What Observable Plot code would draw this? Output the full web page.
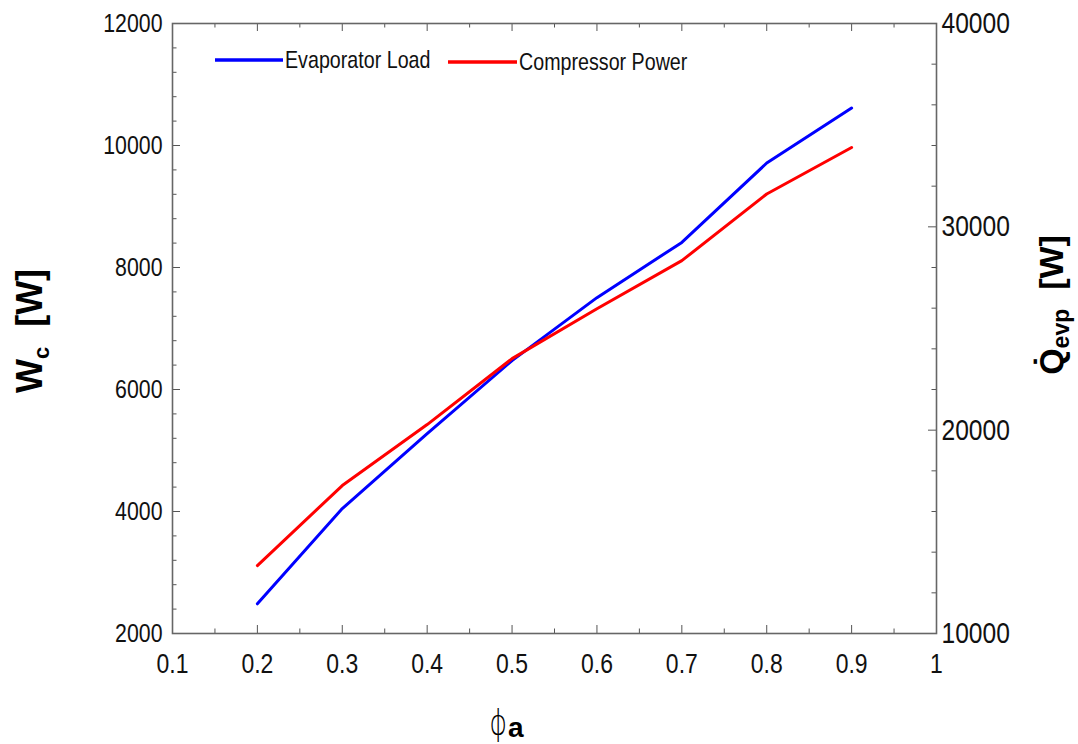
<!DOCTYPE html>
<html><head><meta charset="utf-8">
<script src="https://cdn.jsdelivr.net/npm/d3@7"></script>
<script src="https://cdn.jsdelivr.net/npm/@observablehq/plot@0.6"></script>
<style>
html,body{margin:0;padding:0;background:#fff;}
#chart{position:relative;width:1078px;height:744px;}
</style></head><body><div id="chart"></div>
<script>
// ---- data ----
const phi = [0.2, 0.3, 0.4, 0.5, 0.6, 0.7, 0.8, 0.9];
const evaporatorLoad = [11460, 16145, 19831, 23420, 26517, 29235, 33138, 35842]; // W (right axis)
const compressorPower = [3114, 4425, 5425, 6506, 7325, 8112, 9205, 9968];         // W (left axis)
const xTicks = [0.1, 0.2, 0.3, 0.4, 0.5, 0.6, 0.7, 0.8, 0.9, 1.0];
const wTicks = [2000, 4000, 6000, 8000, 10000, 12000];
const qTicks = [10000, 20000, 30000, 40000];
const seriesNames = ["Evaporator Load", "Compressor Power"];
const seriesColors = ["#0000ff", "#ff0000"];

// ---- layout ----
const W = 1078, H = 744, mL = 172, mR = 142, mT = 23, mB = 111;
const plotW = W - mL - mR, plotH = H - mT - mB;
const sans = "'Liberation Sans', Arial, sans-serif";
const squeeze = 0.82;
const qToW = q => 2000 + (q - 10000) * (10000 / 30000);
const wToQ = w => 10000 + (w - 2000) * 3;

const evapRows = phi.map((p, i) => ({phi: p, v: qToW(evaporatorLoad[i])}));
const compRows = phi.map((p, i) => ({phi: p, v: compressorPower[i]}));

const xMinor = d3.range(0.15, 1, 0.1);
const wMinor = d3.range(2000, 12000, 400).filter(v => v % 2000 !== 0);
const qMinor = d3.range(10000, 40000, 2000).filter(v => v % 10000 !== 0);
const tickColor = "#555";
const maj = 8, mnr = 4.5;

const chart = Plot.plot({
  width: W, height: H,
  marginLeft: mL, marginRight: mR, marginTop: mT, marginBottom: mB,
  x: {domain: [0.1, 1], axis: null},
  y: {domain: [2000, 12000], axis: null},
  style: {background: "white", color: "#111", fontFamily: sans},
  marks: [
    Plot.tickX(xTicks, {x: d => d, insetTop: plotH - maj, stroke: tickColor}),
    Plot.tickX(xMinor, {x: d => d, insetTop: plotH - mnr, stroke: tickColor}),
    Plot.tickX(xTicks, {x: d => d, insetBottom: plotH - maj, stroke: tickColor}),
    Plot.tickX(xMinor, {x: d => d, insetBottom: plotH - mnr, stroke: tickColor}),
    Plot.tickY(wTicks, {y: d => d, insetRight: plotW - maj, stroke: tickColor}),
    Plot.tickY(wMinor, {y: d => d, insetRight: plotW - mnr, stroke: tickColor}),
    Plot.tickY(qTicks.map(qToW), {y: d => d, insetLeft: plotW - maj, stroke: tickColor}),
    Plot.tickY(qMinor.map(qToW), {y: d => d, insetLeft: plotW - mnr, stroke: tickColor}),
    Plot.frame({stroke: "#666", strokeWidth: 1.6}),
    Plot.axisX(xTicks, {anchor: "bottom", tickSize: 0, tickPadding: 20, fontSize: 28,
      tickFormat: d => String(+d.toFixed(1)), label: null}),
    Plot.axisY(wTicks, {anchor: "left", tickSize: 0, tickPadding: 10, fontSize: 26,
      tickFormat: d => String(d), label: null}),
    Plot.axisY(qTicks.map(qToW), {anchor: "right", tickSize: 0, tickPadding: 5, fontSize: 30,
      tickFormat: d => String(Math.round(wToQ(d))), label: null}),
    Plot.line(evapRows, {x: "phi", y: "v", stroke: seriesColors[0], strokeWidth: 3}),
    Plot.line(compRows, {x: "phi", y: "v", stroke: seriesColors[1], strokeWidth: 3})
  ]
});
document.getElementById("chart").appendChild(chart);

const svg = d3.select(chart);

// condense the tick labels horizontally (reference uses a narrow face)
svg.selectAll('g[aria-label$="tick label"] text').each(function () {
  const t = this.getAttribute("transform");
  if (t && t.includes("translate")) {
    this.setAttribute("transform", t + ` scale(${squeeze},1)`);
  } else {
    const x = +(this.getAttribute("x") || 0), y = +(this.getAttribute("y") || 0);
    this.removeAttribute("x"); this.removeAttribute("y");
    this.setAttribute("transform", `translate(${x},${y}) scale(${squeeze},1)` + (t ? " " + t : ""));
  }
});

// ---- titles and legend ----
const lt = svg.append("text")
  .attr("transform", "translate(42,331) rotate(-90)")
  .attr("text-anchor", "middle")
  .attr("font-family", sans).attr("font-weight", "bold").attr("font-size", 36).attr("fill", "#000");
lt.append("tspan").text("W");
lt.append("tspan").attr("font-size", 22).attr("dy", 7).text("c");
lt.append("tspan").attr("dy", -7).text("\u00a0\u00a0[W]");

const rt = svg.append("text")
  .attr("transform", "translate(1063,305) rotate(-90)")
  .attr("text-anchor", "middle")
  .attr("font-family", sans).attr("font-weight", "bold").attr("font-size", 34).attr("fill", "#000");
rt.append("tspan").text("Q\u0307");
rt.append("tspan").attr("font-size", 23).attr("dy", 6).text("evp");
rt.append("tspan").attr("dy", -6).text("\u00a0\u00a0[W]");

// x title: phi (thin) + bold subscript-like a
svg.append("text")
  .attr("transform", "translate(507,735) scale(0.75,1)")
  .attr("text-anchor", "end")
  .attr("font-family", "'DejaVu Sans', sans-serif").attr("font-weight", 200)
  .attr("font-size", 36).attr("fill", "#000").text("\u03d5");
svg.append("text")
  .attr("x", 508).attr("y", 737)
  .attr("text-anchor", "start")
  .attr("font-family", sans).attr("font-weight", "bold")
  .attr("font-size", 28).attr("fill", "#000").text("a");

const legendItems = [
  {name: seriesNames[0], color: seriesColors[0], x1: 215, x2: 283, y: 60},
  {name: seriesNames[1], color: seriesColors[1], x1: 448, x2: 517, y: 62}
];
for (const it of legendItems) {
  svg.append("line").attr("x1", it.x1).attr("x2", it.x2).attr("y1", it.y).attr("y2", it.y)
    .attr("stroke", it.color).attr("stroke-width", 3.5);
  svg.append("text")
    .attr("transform", `translate(${it.x2 + 2},${it.y}) scale(${squeeze},1)`)
    .attr("text-anchor", "start").attr("dy", "0.35em")
    .attr("font-family", sans).attr("font-size", 24).attr("fill", "#111").text(it.name);
}
</script>
</body></html>
